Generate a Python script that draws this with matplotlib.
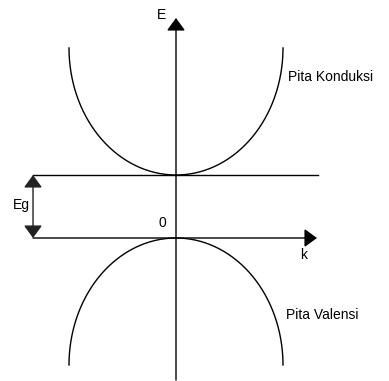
import numpy as np
import matplotlib
matplotlib.use("Agg")
import matplotlib.pyplot as plt

plt.rcParams["font.family"] = ["Liberation Sans", "DejaVu Sans"]

# band diagram data (units: pixel-like, origin at top of valence band)
EG = 63            # band gap
BAND_DEPTH = 127   # height of each band arc
BAND_HALF = 107    # half width in k
K_MAX = 141        # k axis arrow tip
E_TOP = 220        # E axis arrow tip
E_BOT = -142       # bottom of E axis
LINE_LEFT = -143   # left end of the horizontal lines

labels = {"cb": "Pita Konduksi", "vb": "Pita Valensi", "gap": "Eg"}

fig = plt.figure(figsize=(3.89, 3.81), dpi=100)
ax = fig.add_axes([0, 0, 1, 1])
ax.set_xlim(-176, 213)
ax.set_ylim(-143, 238)
ax.axis("off")

# elliptical band arcs
t = np.linspace(0, np.pi, 200)
k = -BAND_HALF * np.cos(t)
cb = EG + BAND_DEPTH * (1 - np.sin(t))
vb = -BAND_DEPTH * (1 - np.sin(t))
ax.plot(k, cb, color="black", lw=1)
ax.plot(k, vb, color="black", lw=1)

head = "head_length=0.55,head_width=0.4"

# horizontal levels
ax.plot([LINE_LEFT, K_MAX + 1], [EG, EG], color="black", lw=1)
ax.annotate("", xy=(K_MAX, 0), xytext=(LINE_LEFT, 0),
            arrowprops=dict(arrowstyle="-|>," + head, color="black", lw=1,
                            mutation_scale=14, shrinkA=0, shrinkB=0))

# E axis
ax.annotate("", xy=(0, E_TOP), xytext=(0, E_BOT),
            arrowprops=dict(arrowstyle="-|>," + head, color="black", lw=1,
                            mutation_scale=14, shrinkA=0, shrinkB=0))

# gap arrow
ax.annotate("", xy=(LINE_LEFT, EG), xytext=(LINE_LEFT, 0),
            arrowprops=dict(arrowstyle="<|-|>," + head, color="#222222", lw=1,
                            mutation_scale=14, shrinkA=0, shrinkB=0))

fs = 10
ax.text(-14, 223, "E", fontsize=fs, ha="center", va="center")
ax.text(-14, 15, "0", fontsize=fs, ha="center", va="center")
ax.text(128, -17, "k", fontsize=fs, ha="center", va="center")
ax.text(-155, 33, labels["gap"], fontsize=fs, ha="center", va="center")
ax.text(112, 161, labels["cb"], fontsize=fs, ha="left", va="center")
ax.text(110, -77, labels["vb"], fontsize=fs, ha="left", va="center")

fig.savefig("out.png", dpi=100, facecolor="white")
